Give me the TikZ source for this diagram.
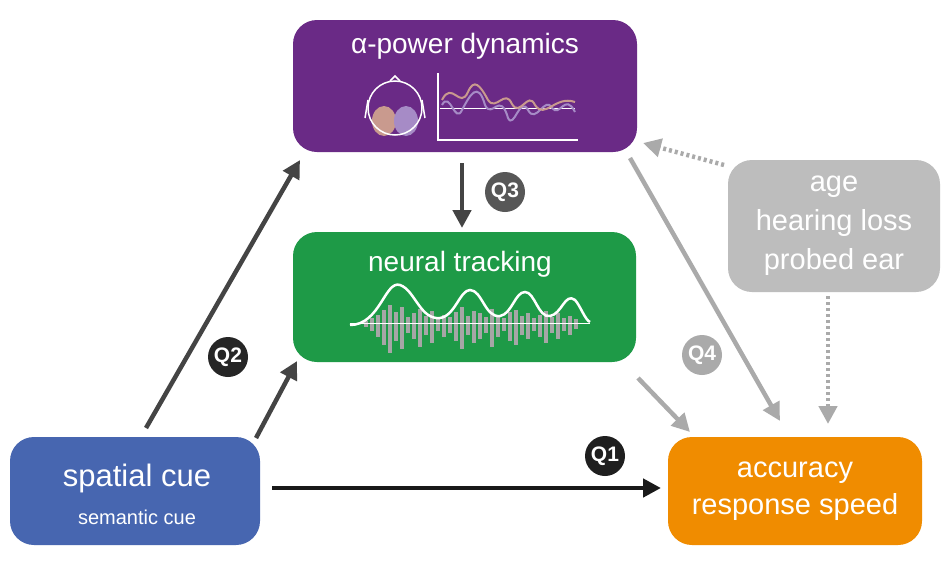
\documentclass[tikz,border=0pt]{standalone}
\usepackage{fontspec}
\setmainfont{Liberation Sans}
\usetikzlibrary{arrows.meta}
\definecolor{cpurple}{HTML}{6A2A86}
\definecolor{cgreen}{HTML}{1E9A47}
\definecolor{cblue}{HTML}{4766B0}
\definecolor{corange}{HTML}{F08C00}
\definecolor{cgrey}{HTML}{BDBDBD}
\definecolor{cdark}{HTML}{444444}
\definecolor{clight}{HTML}{AAAAAA}
\definecolor{lobeA}{HTML}{C99A8E}
\definecolor{lobeB}{HTML}{A68BC6}
\begin{document}
\begin{tikzpicture}[x=1pt,y=-1pt,
 box/.style={rounded corners=24pt,inner sep=0pt,text=white,align=center,font=\fontsize{29}{37}\selectfont},
 q/.style={circle,inner sep=0pt,minimum size=40pt,text=white,font=\bfseries\fontsize{21}{21}\selectfont},
 arr/.style={line width=4.5pt,-{Triangle[length=18pt,width=18pt]}},
 dot/.style={line width=4.5pt,dash pattern=on 3pt off 3pt,clight,-{Triangle[length=18pt,width=18pt]}}]
\useasboundingbox (0,0) rectangle (948,565);
\fill[white] (0,0) rectangle (948,565);
\node[box,fill=cpurple,minimum width=344pt,minimum height=132pt] (pw) at (465,86) {};
\node[text=white,font=\fontsize{28}{28}\selectfont] (pwt) at (465,46) {α-power dynamics};
\node[box,fill=cgreen,minimum width=343pt,minimum height=130pt] (nt) at (464.5,297) {};
\node[text=white,font=\fontsize{28}{28}\selectfont] (ntt) at (460,264) {neural tracking};
\node[box,fill=cblue,minimum width=250pt,minimum height=108pt] (sc) at (135,491) {};
\node[text=white,font=\fontsize{31}{31}\selectfont] (sct) at (137,478) {spatial cue};
\node[text=white,font=\fontsize{20}{20}\selectfont] (scs) at (137,517) {semantic cue};
\node[box,fill=corange,minimum width=254pt,minimum height=108pt] (ac) at (795,491) {accuracy\\response speed};
\node[box,fill=cgrey,minimum width=212pt,minimum height=132pt,font=\fontsize{29}{39}\selectfont] (ag) at (834,226) {age\\hearing loss\\probed ear};
% head icon
\fill[lobeA] (384,121) ellipse (12 and 15);
\fill[lobeB] (406,121) ellipse (12 and 15);
\draw[white,line width=1.5pt] (395,108) circle (27);
\draw[white,line width=1.5pt] (368,100) -- (365,118) (422,100) -- (425,118) (390,81) -- (395,76) -- (400,81);
\draw[white,line width=1.2pt] (438,73) -- (438,140) -- (578,140);
\draw[white,line width=1pt] (440,108) -- (575,108);
\draw[lobeB,line width=2pt] (442,105) .. controls (450,90) and (455,125) .. (462,110) .. controls (470,95) and (478,80) .. (485,105) .. controls (492,120) and (500,90) .. (508,118) .. controls (514,130) and (520,95) .. (528,110) .. controls (536,125) and (545,95) .. (552,108) .. controls (560,118) and (565,92) .. (575,112);
\draw[lobeA,line width=2pt] (442,100) .. controls (452,80) and (460,110) .. (468,92) .. controls (474,78) and (480,85) .. (488,100) .. controls (496,112) and (505,88) .. (512,104) .. controls (520,118) and (528,90) .. (535,105) .. controls (545,120) and (555,95) .. (575,102);
% waveform
\foreach \xx/\hh in {366/4,372/8,378/14,384/22,390/30,396/18,402/26,408/10,414/16,420/24,426/12,432/20,438/8,444/14,450/10,456/18,462/26,468/12,474/20,480/16,486/10,492/24,498/14,504/8,510/18,516/22,522/12,528/16,534/8,540/14,546/20,552/10,558/16,564/8,570/12,576/6}
  \draw[black!35,line width=4pt] (\xx,{323-\hh*0.6}) -- (\xx,{323+\hh});
\draw[white,line width=0.8pt] (350,323) -- (590,323);
\draw[white,line width=2.5pt] (350,325) .. controls (380,325) and (385,280) .. (400,285) .. controls (415,290) and (420,320) .. (440,318) .. controls (455,316) and (460,290) .. (470,290) .. controls (482,290) and (485,318) .. (500,316) .. controls (512,314) and (515,292) .. (525,292) .. controls (535,292) and (538,318) .. (550,316) .. controls (562,314) and (565,292) .. (575,300) .. controls (580,305) and (585,320) .. (590,322);
% Q labels
\node[q,fill=black!88] (q1) at (605,456) {Q1};
\node[q,fill=black!85] (q2) at (228,357) {Q2};
\node[q,fill=cdark!90] (q3) at (505,192) {Q3};
\node[q,fill=clight] (q4) at (702,355) {Q4};
% connectors
\coordinate (a1) at (146,428); \coordinate (a1e) at (300,160);
\draw[arr,cdark] (a1) -- (a1e);
\coordinate (a2) at (256,438); \coordinate (a2e) at (297,361);
\draw[arr,cdark] (a2) -- (a2e);
\coordinate (a3) at (272,488); \coordinate (a3e) at (661,488);
\draw[arr,black!90] (a3) -- (a3e);
\coordinate (a4) at (462,163); \coordinate (a4e) at (462,228);
\draw[arr,cdark] (a4) -- (a4e);
\coordinate (a5) at (630,158); \coordinate (a5e) at (780,421);
\draw[arr,clight] (a5) -- (a5e);
\coordinate (a6) at (638,378); \coordinate (a6e) at (690,432);
\draw[arr,clight] (a6) -- (a6e);
\coordinate (d1) at (724,165); \coordinate (d1e) at (643,143);
\draw[dot] (d1) -- (d1e);
\coordinate (d2) at (828,296); \coordinate (d2e) at (828,424);
\draw[dot] (d2) -- (d2e);
\end{tikzpicture}
\end{document}
